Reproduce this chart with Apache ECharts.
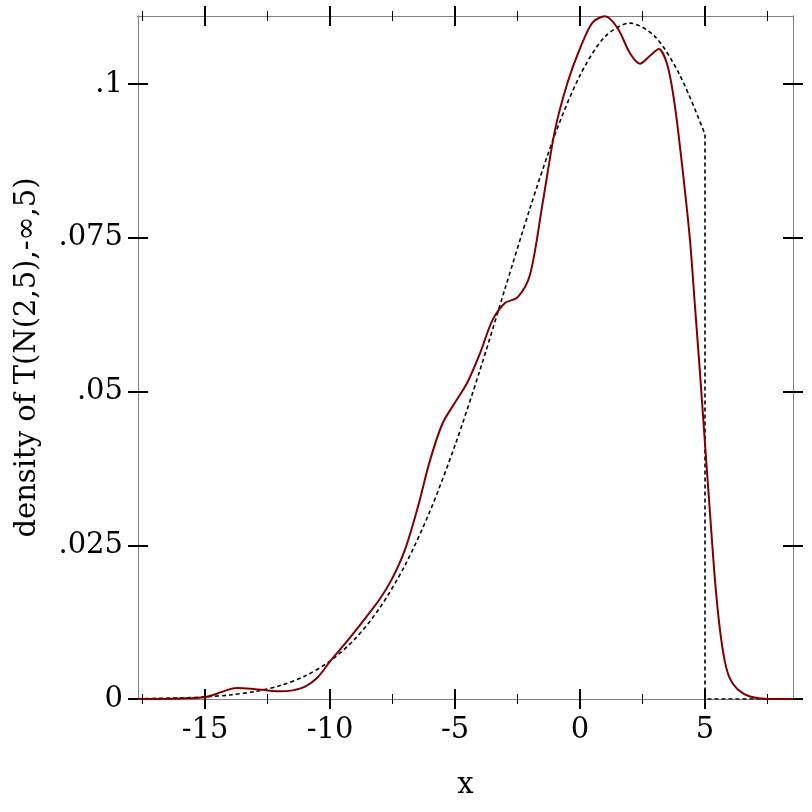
<!DOCTYPE html>
<html><head><meta charset="utf-8">
<script src="https://cdn.jsdelivr.net/npm/echarts@6/dist/echarts.min.js"></script>
<style>html,body{margin:0;padding:0;background:#fff}#c{width:812px;height:812px}</style>
</head><body><div id="c"></div>
<script>
// Data
const xMajorTicks = [-15, -10, -5, 0, 5];
const xMinorTicks = [-17.5, -12.5, -7.5, -2.5, 2.5, 7.5];
const yTicks = [0, 0.025, 0.05, 0.075, 0.1];
const xRange = [-17.68, 8.52];
const yRange = [0, 0.11106];

// empirical (kernel density) curve
const kdeX = [-17.68, -16, -15, -14.5, -14, -13.7, -13, -12.5, -12, -11.5, -11, -10.5, -10, -9.5, -9, -8.5, -8, -7.5, -7, -6.5, -6, -5.5, -5, -4.5, -4, -3.5, -3, -2.5, -2, -1.5, -1, -0.5, 0, 0.5, 1, 1.5, 2, 2.4, 2.8, 3.15, 3.5, 3.8, 4.1, 4.4, 4.6, 4.8, 5, 5.2, 5.4, 5.6, 5.8, 6.0, 6.3, 6.8, 7.5, 8.52];
const kdeY = [0, 0.0001, 0.0003, 0.0009, 0.0016, 0.0018, 0.0016, 0.0014, 0.00125, 0.0014, 0.002, 0.0035, 0.0061, 0.0085, 0.0110, 0.0136, 0.0163, 0.0197, 0.0243, 0.0310, 0.0388, 0.0448, 0.0482, 0.0515, 0.0562, 0.0616, 0.0644, 0.0653, 0.0690, 0.0805, 0.0925, 0.1002, 0.1058, 0.1100, 0.1110, 0.1091, 0.1050, 0.1033, 0.1046, 0.1057, 0.1030, 0.0963, 0.0862, 0.0746, 0.0638, 0.0530, 0.0415, 0.0302, 0.0193, 0.0112, 0.0060, 0.0033, 0.0016, 0.0004, 0, 0];

// truncated normal density curve (dashed)
const pdfX = [-17.68, -16, -15, -14, -13, -12, -11, -10, -9, -8, -7, -6, -5, -4, -3, -2, -1, 0, 1, 2, 3, 4, 5];
const pdfY = [0.00005, 0.00017, 0.00034, 0.00066, 0.00122, 0.00218, 0.00374, 0.00617, 0.00977, 0.01487, 0.02175, 0.03055, 0.04125, 0.0535, 0.0667, 0.0798, 0.0918, 0.1014, 0.1077, 0.1099, 0.1077, 0.1014, 0.0918];
const pdfTailX = [5, 5, 8.52];
const pdfTailY = [0.0918, 0, 0];

const zip = (a, b) => a.map((v, i) => [v, b[i]]);
const FONT = 'DejaVu Serif';
const FS = 29;
const axisGray = '#808080';

function xAx(pos, vals, inside, len, width, color, labels, name) {
  return {
    type: 'value', position: pos, min: xRange[0], max: xRange[1],
    axisLine: { show: true, onZero: false, lineStyle: { color: axisGray, width: 1 } },
    axisTick: { show: true, inside: inside, length: len, customValues: vals, lineStyle: { color: color, width: width } },
    axisLabel: labels ? { show: true, customValues: vals, fontFamily: FONT, fontSize: FS, color: '#000', margin: 17 } : { show: false },
    splitLine: { show: false },
    name: name || '', nameLocation: 'middle', nameGap: 72,
    nameTextStyle: { fontFamily: FONT, fontSize: FS, color: '#000' }
  };
}
function yAx(pos, inside, labels, name) {
  return {
    type: 'value', position: pos, min: yRange[0], max: yRange[1],
    axisLine: { show: true, onZero: false, lineStyle: { color: axisGray, width: 1 } },
    axisTick: { show: true, inside: inside, length: 10, customValues: yTicks, lineStyle: { color: '#000', width: 2 } },
    axisLabel: labels ? { show: true, customValues: yTicks, fontFamily: FONT, fontSize: FS, color: '#000', margin: 15,
      formatter: v => v === 0 ? '0' : String(v).replace(/^0\./, '.') } : { show: false },
    splitLine: { show: false },
    name: name || '', nameLocation: 'middle', nameGap: 96, nameRotate: 90,
    nameTextStyle: { fontFamily: FONT, fontSize: FS, color: '#000' }
  };
}

const chart = echarts.init(document.getElementById('c'), null, { renderer: 'canvas' });
chart.setOption({
  animation: false,
  backgroundColor: '#fff',
  grid: { left: 138, top: 16, right: 19, bottom: 113, containLabel: false },
  xAxis: [
    xAx('bottom', xMajorTicks, false, 10, 2, '#000', true, 'x'),
    xAx('bottom', xMajorTicks, true, 10, 2, '#000', false),
    xAx('bottom', xMinorTicks, false, 5, 1, '#000', false),
    xAx('bottom', xMinorTicks, true, 5, 1, '#000', false),
    xAx('top', xMajorTicks, false, 10, 2, '#000', false),
    xAx('top', xMajorTicks, true, 10, 2, '#000', false),
    xAx('top', xMinorTicks, false, 5, 1, '#000', false),
    xAx('top', xMinorTicks, true, 5, 1, '#000', false)
  ],
  yAxis: [
    yAx('left', false, true, 'density of T(N(2,5),-∞,5)'),
    yAx('left', true, false),
    yAx('right', false, false),
    yAx('right', true, false)
  ],
  series: [
    { type: 'line', xAxisIndex: 0, yAxisIndex: 0, data: zip(pdfX, pdfY), smooth: 0.3, showSymbol: false,
      lineStyle: { color: '#000', width: 1.6, type: [4, 3] }, z: 3 },
    { type: 'line', xAxisIndex: 0, yAxisIndex: 0, data: zip(pdfTailX, pdfTailY), smooth: false, showSymbol: false,
      lineStyle: { color: '#000', width: 1.6, type: [4, 3] }, z: 3 },
    { type: 'line', xAxisIndex: 0, yAxisIndex: 0, data: zip(kdeX, kdeY), smooth: 0.3, showSymbol: false,
      lineStyle: { color: '#800000', width: 2 }, z: 4 }
  ]
});
</script></body></html>
